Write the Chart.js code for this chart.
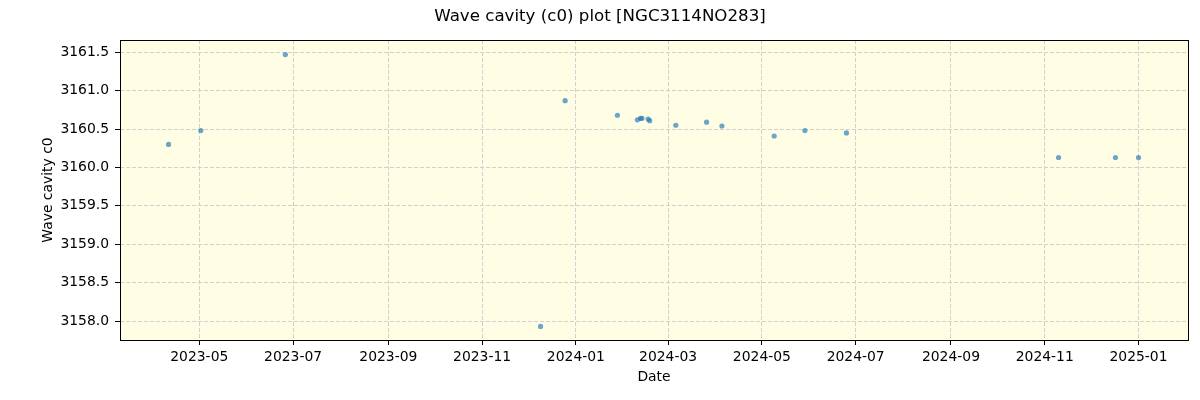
<!DOCTYPE html>
<html>
<head>
<meta charset="utf-8">
<title>Wave cavity (c0) plot [NGC3114NO283]</title>
<script src="https://cdn.jsdelivr.net/npm/chart.js@4"></script>
<style>
  html, body { margin: 0; padding: 0; background: #fff; }
  #wrap { width: 1200px; height: 400px; }
</style>
</head>
<body>
<div id="wrap"><canvas id="myChart"></canvas></div>
<script>
const obsDates = [
  '2023-04-11', '2023-05-02', '2023-06-26', '2023-12-09', '2023-12-25',
  '2024-01-28', '2024-02-10', '2024-02-12', '2024-02-13', '2024-02-17',
  '2024-02-18', '2024-03-06', '2024-03-26', '2024-04-05', '2024-05-09',
  '2024-05-29', '2024-06-25', '2024-11-10', '2024-12-17', '2025-01-01'
];
const c0Values = [
  3160.30, 3160.48, 3161.47, 3157.93, 3160.87,
  3160.68, 3160.62, 3160.64, 3160.64, 3160.63,
  3160.61, 3160.55, 3160.59, 3160.54, 3160.41,
  3160.48, 3160.45, 3160.13, 3160.13, 3160.13
];
const xTickLabels = ['2023-05', '2023-07', '2023-09', '2023-11', '2024-01', '2024-03',
  '2024-05', '2024-07', '2024-09', '2024-11', '2025-01'];
const yTickValues = [3158.0, 3158.5, 3159.0, 3159.5, 3160.0, 3160.5, 3161.0, 3161.5];

const xRange = ['2023-03-10T10:00:00Z', '2025-02-02T05:00:00Z'];
const yRange = [3157.753, 3161.66];

function toDays(s) {
  return Date.parse(s) / 86400000;
}

const font = 'DejaVu Sans';

// light yellow plot background and black frame like matplotlib
const plotFrame = {
  id: 'plotFrame',
  beforeDraw(chart) {
    const a = chart.chartArea;
    const c = chart.ctx;
    c.save();
    c.fillStyle = '#fffde4';
    c.fillRect(a.left, a.top, a.right - a.left, a.bottom - a.top);
    c.restore();
  },
  afterDraw(chart) {
    const a = chart.chartArea;
    const c = chart.ctx;
    c.save();
    c.strokeStyle = '#000';
    c.lineWidth = 1;
    c.strokeRect(Math.round(a.left) + 0.5, Math.round(a.top) + 0.5,
      Math.round(a.right - a.left), Math.round(a.bottom - a.top));
    c.restore();
  }
};

const ctx = document.getElementById('myChart');

new Chart(ctx, {
  type: 'scatter',
  data: {
    datasets: [{
      label: 'c0',
      data: obsDates.map((d, i) => ({ x: toDays(d), y: c0Values[i] })),
      backgroundColor: 'rgba(31, 119, 180, 0.65)',
      borderWidth: 0,
      pointRadius: 2.6,
      pointHoverRadius: 2.6
    }]
  },
  options: {
    responsive: true,
    maintainAspectRatio: false,
    animation: false,
    devicePixelRatio: 1,
    layout: { padding: { top: 0, right: 12, bottom: 0, left: 12 } },
    plugins: {
      legend: { display: false },
      tooltip: { enabled: false },
      title: {
        display: true,
        text: 'Wave cavity (c0) plot [NGC3114NO283]',
        color: '#000',
        font: { family: font, size: 16.67, weight: 'normal' },
        padding: { top: 7, bottom: 13 }
      }
    },
    scales: {
      x: {
        type: 'linear',
        position: 'bottom',
        min: toDays(xRange[0]),
        max: toDays(xRange[1]),
        afterBuildTicks: scale => {
          scale.ticks = xTickLabels.map(l => ({ value: toDays(l + '-01') }));
        },
        afterFit: scale => { scale.height = 60; },
        ticks: {
          autoSkip: false,
          maxRotation: 0,
          color: '#000',
          font: { family: font, size: 13.9 },
          padding: 4,
          callback: (v, i) => xTickLabels[i]
        },
        grid: {
          color: '#d0d0d0',
          lineWidth: 1,
          tickLength: 5,
          tickColor: '#000',
          tickWidth: 1
        },
        border: { display: false, dash: [4, 2] },
        title: {
          display: true,
          text: 'Date',
          color: '#000',
          font: { family: font, size: 13.9 },
          padding: { top: 0, bottom: 14 }
        }
      },
      y: {
        position: 'left',
        min: yRange[0],
        max: yRange[1],
        afterBuildTicks: scale => {
          scale.ticks = yTickValues.map(v => ({ value: v }));
        },
        afterFit: scale => { scale.width = 108; },
        ticks: {
          color: '#000',
          font: { family: font, size: 13.9 },
          padding: 6,
          callback: v => v.toFixed(1)
        },
        grid: {
          color: '#d0d0d0',
          lineWidth: 1,
          tickLength: 5,
          tickColor: '#000',
          tickWidth: 1
        },
        border: { display: false, dash: [4, 2] },
        title: {
          display: true,
          text: 'Wave cavity c0',
          color: '#000',
          font: { family: font, size: 13.9 },
          padding: { top: 28, bottom: 0 }
        }
      }
    }
  },
  plugins: [plotFrame]
});
</script>
</body>
</html>
